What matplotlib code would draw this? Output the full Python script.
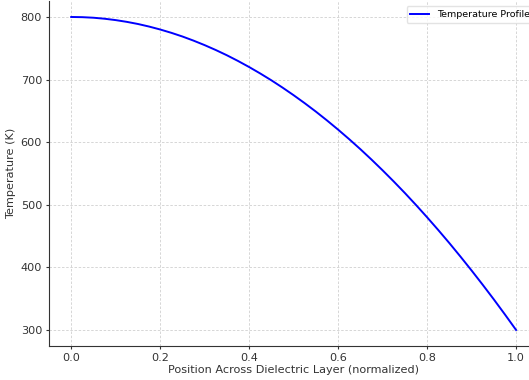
import numpy as np
import matplotlib.pyplot as plt

# Temperature
position = [0.0, 0.025, 0.05, 0.075, 0.10, 0.125, 0.15, 0.175, 0.20, 0.225,
            0.25, 0.275, 0.30, 0.325, 0.35, 0.375, 0.40, 0.425, 0.45, 0.475,
            0.50, 0.525, 0.55, 0.575, 0.60, 0.625, 0.65, 0.675, 0.70, 0.725,
            0.75, 0.775, 0.80, 0.825, 0.85, 0.875, 0.90, 0.925, 0.95, 0.975, 1.0]
temperature = [800, 799.7, 798.8, 797.2, 795, 792.2, 788.8, 784.7, 780, 774.7,
               768.8, 762.2, 755, 747.2, 738.8, 729.7, 720, 709.7, 698.8, 687.2,
               675, 662.2, 648.8, 634.7, 620, 604.7, 588.8, 572.2, 555, 537.2,
               518.8, 499.7, 480, 459.7, 438.8, 417.2, 395, 372.2, 348.8, 324.7, 300]

fig = plt.figure(figsize=(5.29, 3.80), dpi=100)
ax = fig.add_axes([0.0926, 0.0905, 0.925, 0.906])

ax.plot(position, temperature, color='blue', linewidth=1.4, label='Temperature Profile')

ax.set_xlim(-0.05, 1.05)
ax.set_ylim(275, 825)
ax.set_xticks([0.0, 0.2, 0.4, 0.6, 0.8, 1.0])
ax.set_yticks([300, 400, 500, 600, 700, 800])

ax.set_xlabel('Position Across Dielectric Layer (normalized)', fontsize=8.1, color='#333333', labelpad=2)
ax.set_ylabel('Temperature (K)', fontsize=8.1, color='#333333', labelpad=3)
ax.tick_params(labelsize=8.1, colors='#333333', length=2.5, pad=2.5)

ax.grid(True, linestyle=(0, (3, 2)), color='#d0d0d0', linewidth=0.6)
ax.spines['top'].set_visible(False)
ax.spines['right'].set_visible(False)
ax.spines['left'].set_color('#333333')
ax.spines['bottom'].set_color('#333333')

ax.legend(loc='upper right', fontsize=6.8, frameon=True, edgecolor='#dddddd')

fig.savefig('out.png', dpi=100)
